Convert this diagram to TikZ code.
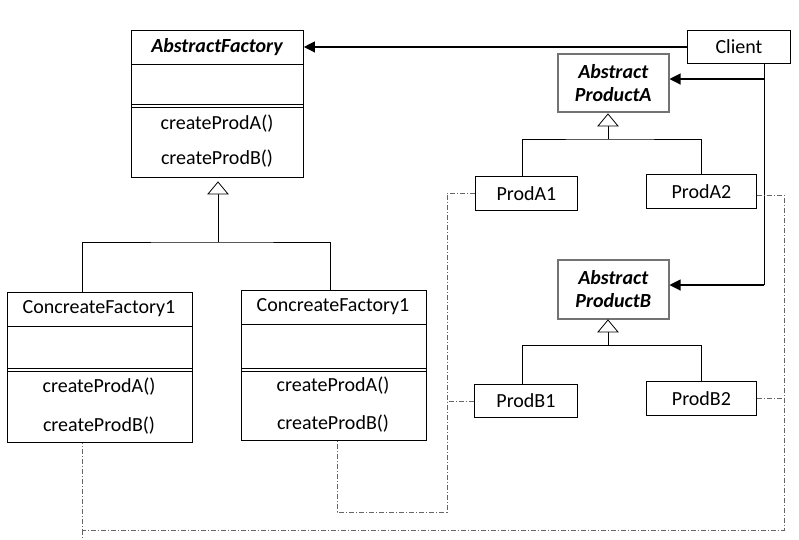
\documentclass[tikz,border=0pt]{standalone}
\usepackage{fontspec}
\setmainfont{Carlito}
\usetikzlibrary{arrows.meta}
\begin{document}
\begin{tikzpicture}[x=1pt,y=-1pt,
  every node/.style={font=\fontsize{20}{23}\selectfont, inner sep=0pt},
  box/.style={draw, line width=0.9pt, anchor=north west},
  abox/.style={draw=black!55, line width=1.5pt, anchor=north west, align=center, font=\fontsize{20}{23}\selectfont\bfseries\itshape},
  line/.style={line width=0.9pt},
  tri/.style={line width=0.8pt, fill=white, line join=miter},
  assoc/.style={line width=1.1pt, -{Triangle[length=11pt, width=11pt]}},
  dep/.style={gray!80!black, line width=0.9pt, dash pattern=on 5pt off 2pt on 1pt off 2pt}]
\useasboundingbox (0,0) rectangle (799,539);

% AbstractFactory
\node[box, minimum width=172pt, minimum height=147pt] (af) at (131,30) {};
\node[font=\fontsize{20}{23}\selectfont\bfseries\itshape] (aft) at (217,47) {AbstractFactory};
\draw[line] (131,64) -- (303,64);
\draw[line] (131,104) -- (303,104);
\draw[line] (131,107) -- (303,107);
\node (afa) at (217,124) {createProdA()};
\node (afb) at (217,159) {createProdB()};

% Concrete factory left
\node[box, minimum width=185pt, minimum height=150pt] (cf1) at (7,292) {};
\node (cf1t) at (99,309) {ConcreateFactory1};
\draw[line] (7,326) -- (192,326);
\draw[line] (7,368) -- (192,368);
\draw[line] (7,371) -- (192,371);
\node (cf1a) at (99,387) {createProdA()};
\node (cf1b) at (99,426) {createProdB()};

% Concrete factory right
\node[box, minimum width=185pt, minimum height=150pt] (cf2) at (241,290) {};
\node (cf2t) at (333,307) {ConcreateFactory1};
\draw[line] (241,324) -- (426,324);
\draw[line] (241,368) -- (426,368);
\draw[line] (241,371) -- (426,371);
\node (cf2a) at (333,386) {createProdA()};
\node (cf2b) at (333,424) {createProdB()};

% Client
\node[box, minimum width=103pt, minimum height=33pt] (cl) at (687,30) {Client};

% Abstract products
\node[abox, minimum width=111pt, minimum height=58pt] (apa) at (557,53) {Abstract\\ProductA};
\node[abox, minimum width=111pt, minimum height=59pt] (apb) at (557,259) {Abstract\\ProductB};

% Products
\node[box, minimum width=102pt, minimum height=34pt] (pa1) at (475,176) {ProdA1};
\node[box, minimum width=110pt, minimum height=34pt] (pa2) at (646,174) {ProdA2};
\node[box, minimum width=103pt, minimum height=33pt] (pb1) at (474,384) {ProdB1};
\node[box, minimum width=110pt, minimum height=34pt] (pb2) at (646,381) {ProdB2};

% Inheritance: factories
\coordinate (fj) at (218,242);
\coordinate (ft) at (218,182);
\draw[line] (fj) -- (218,194);
\draw[tri] (ft) -- ++(-10,12) -- ++(20,0) -- cycle;
\draw[line] (cf1.north -| 82,0) |- (fj) -| (cf2.north -| 330,0);

% Inheritance: product A
\coordinate (aj) at (608,139);
\coordinate (at) at (608,114);
\draw[line] (aj) -- (608,126);
\draw[tri] (at) -- ++(-10,12) -- ++(20,0) -- cycle;
\draw[line] (pa1.north -| 522,0) |- (aj) -| (pa2.north -| 701,0);

% Inheritance: product B
\coordinate (bj) at (608,345);
\coordinate (bt) at (608,320);
\draw[line] (bj) -- (608,332);
\draw[tri] (bt) -- ++(-10,12) -- ++(20,0) -- cycle;
\draw[line] (pb1.north -| 522,0) |- (bj) -| (pb2.north -| 701,0);

% Client associations
\draw[assoc] (cl.west) -- (cl.west -| af.east);
\coordinate (ca) at (764,79);
\coordinate (cb) at (764,285);
\draw[line] (cl.south -| ca) -- (cb);
\draw[assoc] (ca) -- (ca -| apa.east);
\draw[assoc] (cb) -- (cb -| apb.east);

% Dependencies
\coordinate (d1) at (447,193);
\coordinate (d2) at (447,512);
\coordinate (d3) at (784,195);
\coordinate (d4) at (784,530);
\draw[dep] (pa1.west |- d1) -- (d1) -- (d2) -| (cf2.south -| 337,0);
\draw[dep] (pb1.west) -- (pb1.west -| d1);
\draw[dep] (pa2.east |- d3) -- (d3) -- (d4) -| (cf1.south -| 82,0);
\draw[dep] (d4 -| 82,0) -- (82,539);
\draw[dep] (pb2.east) -- (pb2.east -| d3);
\end{tikzpicture}
\end{document}
